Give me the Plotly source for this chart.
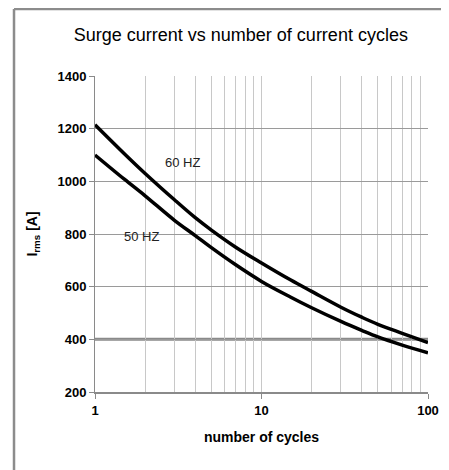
import plotly.graph_objects as go

cycles = [1, 1.5, 2, 3, 4, 5, 7, 10, 15, 20, 30, 40, 50, 70, 100]
i_60hz = [1215, 1105, 1030, 930, 862, 815, 750, 690, 625, 582, 522, 484, 457, 423, 388]
i_50hz = [1100, 1008, 945, 852, 794, 748, 683, 620, 560, 520, 468, 434, 409, 378, 349]

x_major = [1, 10, 100]
x_minor = [2, 3, 4, 5, 6, 7, 8, 9, 20, 30, 40, 50, 60, 70, 80, 90]
y_ticks = [200, 400, 600, 800, 1000, 1200, 1400]

FONT = "Liberation Sans, Arial, sans-serif"

fig = go.Figure()
fig.add_trace(go.Scatter(x=cycles, y=i_60hz, mode="lines",
                         line=dict(color="black", width=3.5, shape="spline", smoothing=1),
                         name="60 HZ", showlegend=False))
fig.add_trace(go.Scatter(x=cycles, y=i_50hz, mode="lines",
                         line=dict(color="black", width=3.5, shape="spline", smoothing=1),
                         name="50 HZ", showlegend=False))

fig.add_annotation(x=0.5225, y=1070, xref="x", yref="y", text="60 HZ", showarrow=False,
                   font=dict(family=FONT, size=13, color="#222"))
fig.add_annotation(x=0.282, y=792, xref="x", yref="y", text="50 HZ", showarrow=False,
                   font=dict(family=FONT, size=13, color="#222"))

# thicker 400 line
fig.add_shape(type="line", xref="paper", yref="y", x0=0, x1=1, y0=400, y1=400,
              line=dict(color="#8a8a8a", width=3), layer="below")

# outer frame (top and left)
fig.add_shape(type="line", xref="paper", yref="paper", x0=-0.2432, x1=1.063, y0=1.2121, y1=1.2121,
              line=dict(color="#8c8c8c", width=2.5))
fig.add_shape(type="line", xref="paper", yref="paper", x0=-0.2432, x1=-0.2432, y0=1.2121, y1=-0.247,
              line=dict(color="#8c8c8c", width=2.5))

fig.update_layout(
    width=441, height=462,
    margin=dict(l=87, r=21, t=68, b=78, autoexpand=False),
    paper_bgcolor="white", plot_bgcolor="white",
    title=dict(text="Surge current vs number of current cycles", x=0.528, xanchor="center",
               y=0.942, yanchor="middle", font=dict(family=FONT, size=18, color="black")),
    font=dict(family=FONT, color="black"),
)
fig.update_xaxes(
    type="log", range=[0, 2], automargin=False,
    tickmode="array", tickvals=x_major, ticktext=["<b>%d</b>" % v for v in x_major],
    ticks="outside", ticklen=5, tickcolor="#8a8a8a", tickwidth=1,
    showgrid=True, gridcolor="#c8c8c8", gridwidth=1,
    showline=True, linecolor="#8a8a8a", linewidth=2,
    minor=dict(tickmode="array", tickvals=x_minor, showgrid=True, gridcolor="#c8c8c8", gridwidth=1, ticks=""),
    tickfont=dict(family=FONT, size=13, color="black"),
    title=dict(text="<b>number of cycles</b>", font=dict(family=FONT, size=14, color="black"), standoff=16),
    zeroline=False,
)
fig.update_yaxes(
    range=[200, 1400], tickmode="array", tickvals=y_ticks, automargin=False,
    ticktext=["<b>%d</b>" % v for v in y_ticks],
    ticks="outside", ticklen=5, tickcolor="#8a8a8a", tickwidth=1,
    showgrid=True, gridcolor="#9a9a9a", gridwidth=1,
    showline=True, linecolor="#8a8a8a", linewidth=1,
    tickfont=dict(family=FONT, size=13, color="black"),
    title=dict(text="<b>I<sub>rms</sub> [A]</b>", font=dict(family=FONT, size=14, color="black"), standoff=16),
    zeroline=False,
)

fig.write_html("out.html", config={"displayModeBar": False},
               post_script="document.documentElement.style.overflow='hidden';document.body.style.overflow='hidden';")
